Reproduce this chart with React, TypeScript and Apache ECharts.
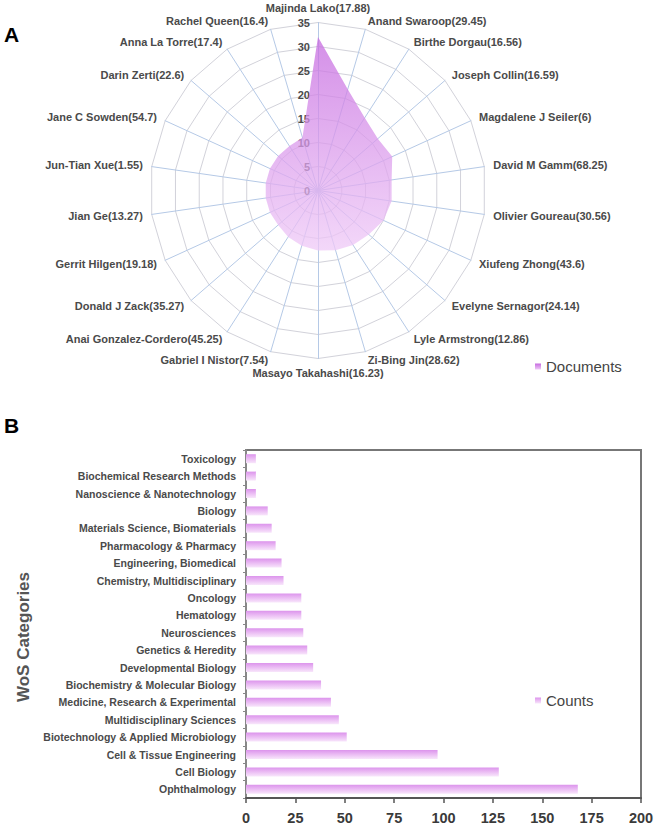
import React, { useEffect, useRef } from 'react';
import * as echarts from 'echarts';

// Radar (counter-clockwise from top, as ECharts lays indicators out)
const radarNames = [
  'Majinda Lako(17.88)',
  'Rachel Queen(16.4)',
  'Anna La Torre(17.4)',
  'Darin Zerti(22.6)',
  'Jane C Sowden(54.7)',
  'Jun-Tian Xue(1.55)',
  'Jian Ge(13.27)',
  'Gerrit Hilgen(19.18)',
  'Donald J Zack(35.27)',
  'Anai Gonzalez-Cordero(45.25)',
  'Gabriel I Nistor(7.54)',
  'Masayo Takahashi(16.23)',
  'Zi-Bing Jin(28.62)',
  'Lyle Armstrong(12.86)',
  'Evelyne Sernagor(24.14)',
  'Xiufeng Zhong(43.6)',
  'Olivier Goureau(30.56)',
  'David M Gamm(68.25)',
  'Magdalene J Seiler(6)',
  'Joseph Collin(16.59)',
  'Birthe Dorgau(16.56)',
  'Anand Swaroop(29.45)',
];
const radarValues = [32, 11.5, 11, 11, 11, 11, 11, 11, 11, 11.5, 12, 12.5, 13, 13.5, 14, 15, 15.5, 15.5, 17, 16.5, 18, 22];
const radarMax = 35;

// Bar chart (bottom to top)
const categories = [
  'Ophthalmology',
  'Cell Biology',
  'Cell & Tissue Engineering',
  'Biotechnology & Applied Microbiology',
  'Multidisciplinary Sciences',
  'Medicine, Research & Experimental',
  'Biochemistry & Molecular Biology',
  'Developmental Biology',
  'Genetics & Heredity',
  'Neurosciences',
  'Hematology',
  'Oncology',
  'Chemistry, Multidisciplinary',
  'Engineering, Biomedical',
  'Pharmacology & Pharmacy',
  'Materials Science, Biomaterials',
  'Biology',
  'Nanoscience & Nanotechnology',
  'Biochemical Research Methods',
  'Toxicology',
];
const counts = [168, 128, 97, 51, 47, 43, 38, 34, 31, 29, 28, 28, 19, 18, 15, 13, 11, 5, 5, 5];

export default function App() {
  const ref = useRef<HTMLDivElement>(null);
  useEffect(() => {
    document.body.style.margin = '0';
    const chart = echarts.init(ref.current as HTMLDivElement, null, { renderer: 'svg' });
    const font = 'Arial, "Liberation Sans", sans-serif';
    const radarGrad = new echarts.graphic.LinearGradient(0, 0, 0, 1, [
      { offset: 0, color: '#c66ae0' },
      { offset: 1, color: '#efcaf7' },
    ]);
    const barGrad = new echarts.graphic.LinearGradient(0, 0, 0, 1, [
      { offset: 0, color: '#dc94ec' },
      { offset: 0.5, color: '#ebbdf4' },
      { offset: 1, color: '#f8e6fb' },
    ]);
    chart.setOption({
      animation: false,
      textStyle: { fontFamily: font },
      legend: [
        {
          data: ['Documents'],
          left: 535,
          top: 359,
          padding: 0,
          icon: 'rect',
          itemWidth: 6,
          itemHeight: 6,
          textStyle: { fontSize: 15, color: '#444', fontFamily: font },
        },
        {
          data: ['Counts'],
          left: 535,
          top: 693,
          padding: 0,
          icon: 'rect',
          itemWidth: 6,
          itemHeight: 6,
          textStyle: { fontSize: 15, color: '#444', fontFamily: font },
        },
      ],
      radar: {
        center: [318, 190.5],
        radius: 168,
        startAngle: 90,
        splitNumber: 7,
        shape: 'polygon',
        nameGap: 9,
        indicator: radarNames.map((n, i) =>
          i === 0
            ? { name: n, min: 0, max: radarMax, axisLabel: { show: true } }
            : { name: n, min: 0, max: radarMax }
        ),
        axisName: { color: '#4a4a4a', fontWeight: 'bold', fontSize: 11, fontFamily: font },
        axisLine: { lineStyle: { color: '#b5c9e6', width: 1 } },
        splitLine: { lineStyle: { color: '#d2d2da', width: 1 } },
        splitArea: { show: false },
        axisTick: { show: false },
        axisLabel: { show: false, color: '#4a4a4a', fontWeight: 'bold', fontSize: 11, margin: 8, fontFamily: font },
      },
      grid: {
        left: 246,
        right: 16,
        top: 450,
        bottom: 28,
        show: true,
        borderColor: '#777',
        borderWidth: 2,
      },
      xAxis: {
        type: 'value',
        min: 0,
        max: 200,
        interval: 25,
        axisLine: { show: true, lineStyle: { color: '#555', width: 2 } },
        axisTick: { show: true, length: 5, lineStyle: { color: '#555', width: 1.5 } },
        axisLabel: { color: '#3a3a3a', fontWeight: 'bold', fontSize: 14.5, margin: 12, fontFamily: font },
        splitLine: { show: false },
      },
      yAxis: {
        type: 'category',
        data: categories,
        axisLine: { show: true, lineStyle: { color: '#888', width: 2 } },
        axisTick: { show: true, length: 3, lineStyle: { color: '#888' } },
        axisLabel: { color: '#4a4a4a', fontWeight: 'bold', fontSize: 10.5, margin: 10, fontFamily: font },
      },
      series: [
        {
          type: 'radar',
          name: 'Documents',
          symbol: 'none',
          lineStyle: { width: 0 },
          itemStyle: { color: radarGrad },
          areaStyle: { color: radarGrad, opacity: 0.75 },
          data: [{ value: radarValues, name: 'Documents' }],
        },
        {
          type: 'bar',
          name: 'Counts',
          data: counts,
          barWidth: 9,
          itemStyle: { color: barGrad },
        },
      ],
      graphic: [
        {
          type: 'text',
          left: 4,
          top: 24,
          style: { text: 'A', fontSize: 21, fontWeight: 'bold', fill: '#000', fontFamily: font },
        },
        {
          type: 'text',
          left: 4,
          top: 415,
          style: { text: 'B', fontSize: 21, fontWeight: 'bold', fill: '#000', fontFamily: font },
        },
        {
          type: 'text',
          x: 23,
          y: 637,
          rotation: Math.PI / 2,
          style: {
            text: 'WoS Categories',
            fontSize: 17,
            fontWeight: 'bold',
            fill: '#555',
            fontFamily: font,
            align: 'center',
            verticalAlign: 'middle',
          },
        },
      ],
    });
    return () => {
      chart.dispose();
    };
  }, []);
  return <div ref={ref} style={{ width: 657, height: 826 }} />;
}
